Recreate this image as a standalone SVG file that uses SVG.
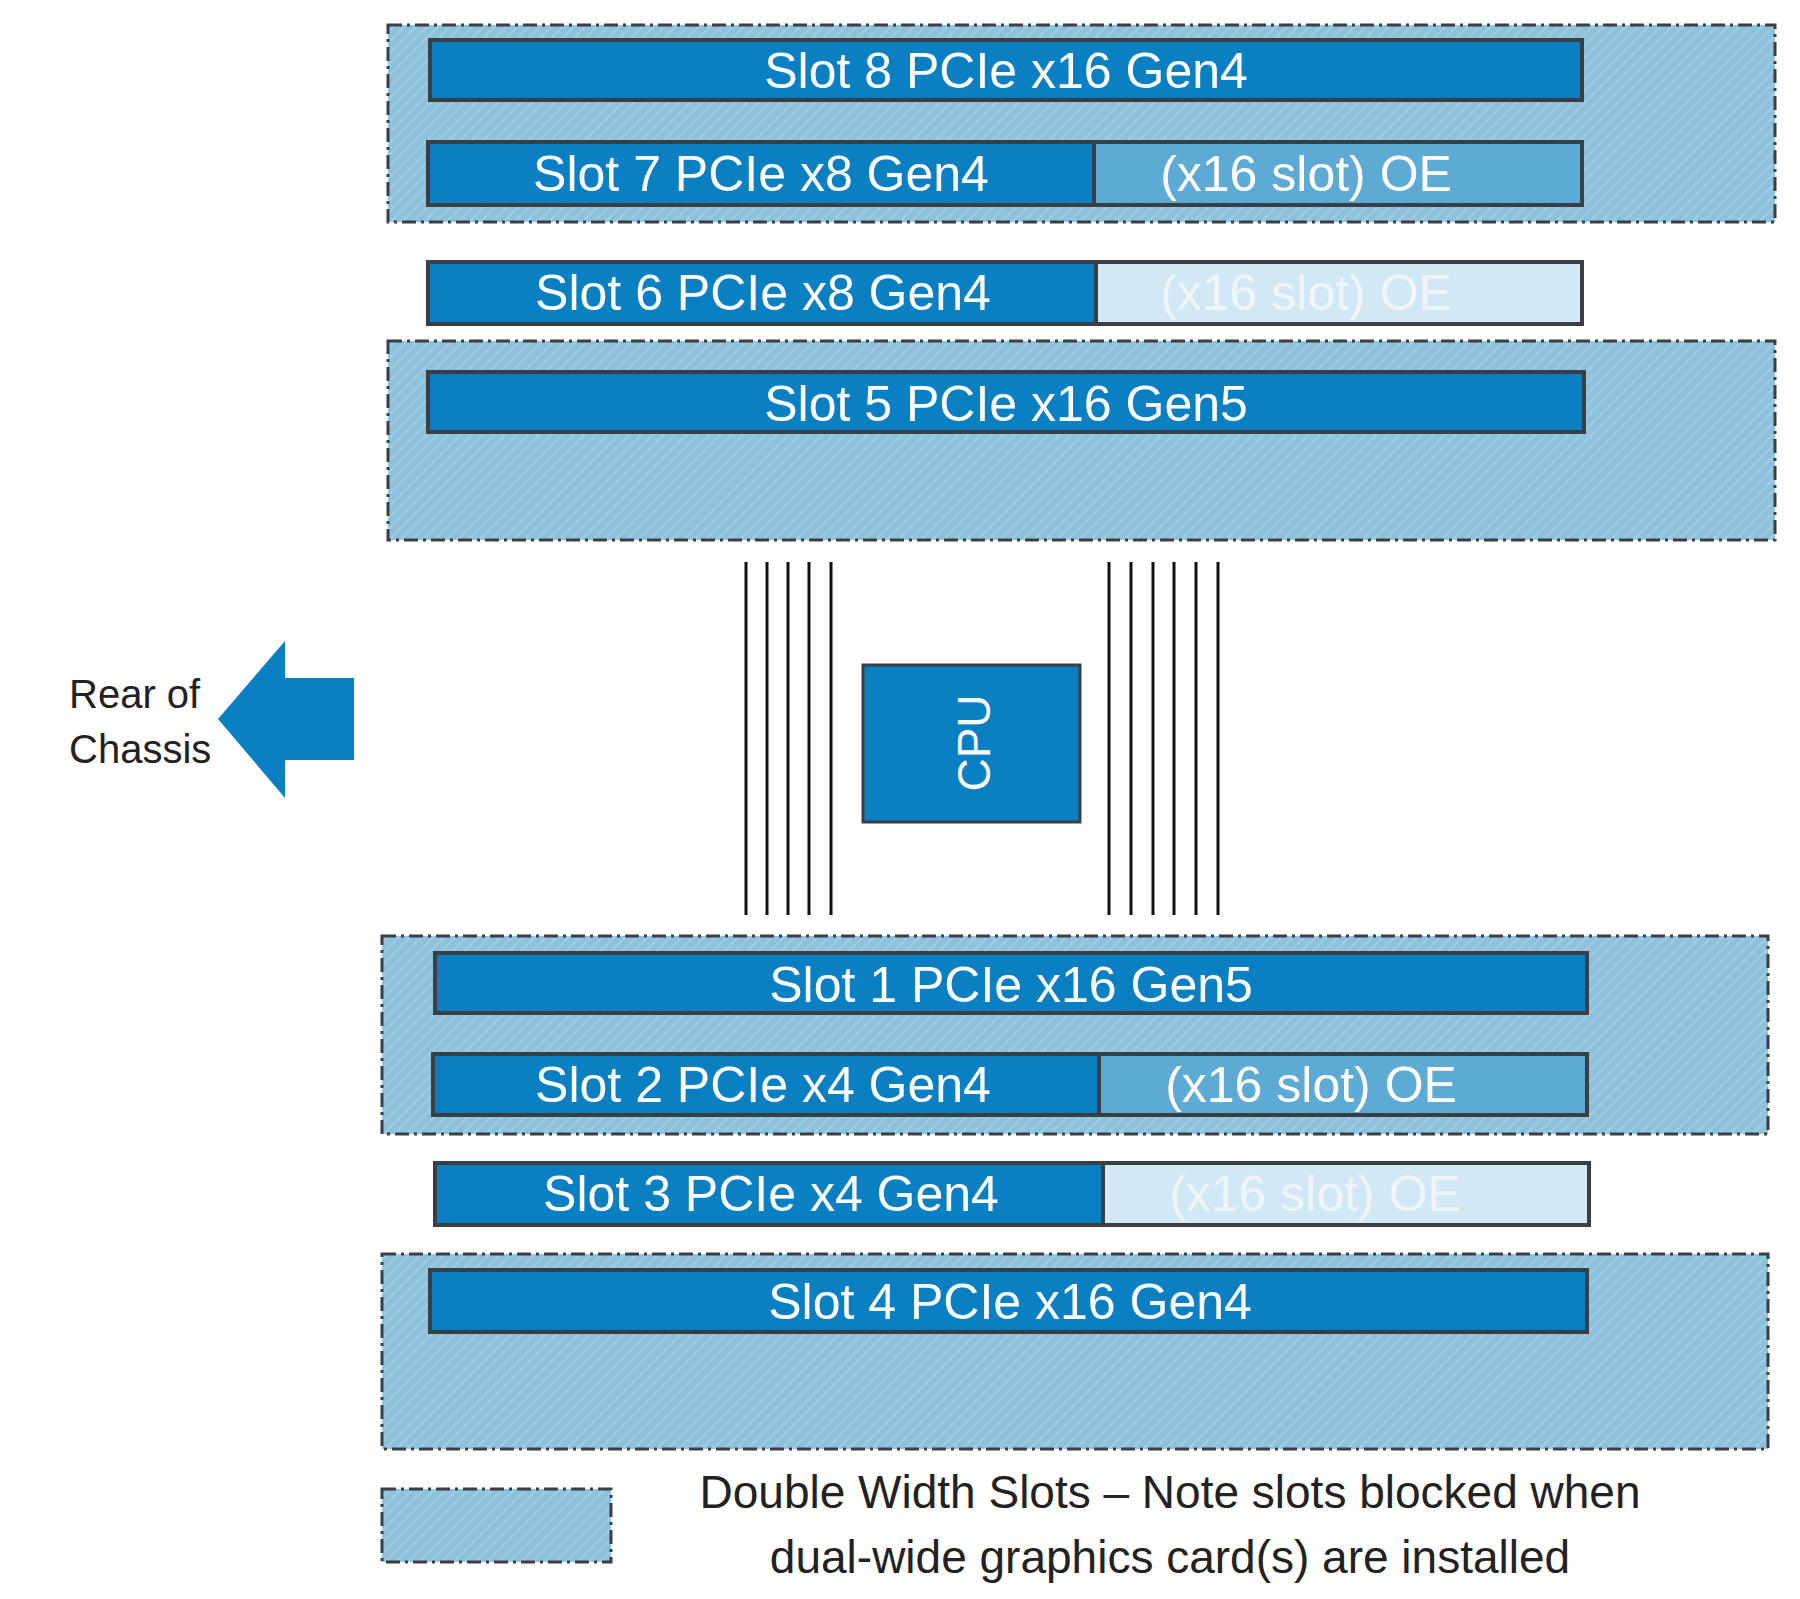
<svg xmlns="http://www.w3.org/2000/svg" width="1800" height="1599" viewBox="0 0 1800 1599">
<defs>
<pattern id="hatch" width="8" height="8" patternUnits="userSpaceOnUse" patternTransform="rotate(45)">
<rect width="8" height="8" fill="#8ec2dc"/>
<line x1="0" y1="0" x2="0" y2="8" stroke="#a6d0e6" stroke-width="3"/>
</pattern>
</defs>
<style>
.dw{fill:url(#hatch);stroke:#3a3f45;stroke-width:3;stroke-dasharray:14 5 3 5}
.slot{fill:#0a80c2;stroke:#3a3f45;stroke-width:4}
.oe1{fill:#5daad5;stroke:#3a3f45;stroke-width:4}
.oe2{fill:#d2e8f4;stroke:#3a3f45;stroke-width:4}
.t{font-family:"Liberation Sans",Arial,sans-serif;font-size:50px;fill:#fff;text-anchor:middle}
.tf{font-family:"Liberation Sans",Arial,sans-serif;font-size:50px;fill:#eef6fb;text-anchor:middle}
.k{font-family:"Liberation Sans",Arial,sans-serif;fill:#222}
.bus{stroke:#111;stroke-width:3}
</style>
<g id="dw-top"><rect class="dw" x="388" y="25" width="1387" height="197"/></g>
<g id="dw-5"><rect class="dw" x="388" y="341" width="1387" height="199"/></g>
<g id="dw-12"><rect class="dw" x="382" y="936" width="1386" height="198"/></g>
<g id="dw-4"><rect class="dw" x="382" y="1254" width="1386" height="195"/></g>

<g id="slot8"><rect class="slot" x="430" y="40" width="1152" height="60"/><text class="t" x="1006" y="88">Slot 8 PCIe x16 Gen4</text></g>
<g id="slot7"><rect class="slot" x="428" y="142" width="666" height="63"/><rect class="oe1" x="1094" y="142" width="488" height="63"/><text class="t" x="761" y="191">Slot 7 PCIe x8 Gen4</text><text class="t" x="1306" y="191">(x16 slot) OE</text></g>
<g id="slot6"><rect class="slot" x="428" y="262" width="668" height="62"/><rect class="oe2" x="1096" y="262" width="486" height="62"/><text class="t" x="763" y="310">Slot 6 PCIe x8 Gen4</text><text class="tf" x="1306" y="310">(x16 slot) OE</text></g>
<g id="slot5"><rect class="slot" x="428" y="372" width="1156" height="60"/><text class="t" x="1006" y="421">Slot 5 PCIe x16 Gen5</text></g>

<g id="connectors">
<line class="bus" x1="746" y1="562" x2="746" y2="915"/>
<line class="bus" x1="767" y1="562" x2="767" y2="915"/>
<line class="bus" x1="788" y1="562" x2="788" y2="915"/>
<line class="bus" x1="809" y1="562" x2="809" y2="915"/>
<line class="bus" x1="831" y1="562" x2="831" y2="915"/>
<line class="bus" x1="1109" y1="562" x2="1109" y2="915"/>
<line class="bus" x1="1131" y1="562" x2="1131" y2="915"/>
<line class="bus" x1="1153" y1="562" x2="1153" y2="915"/>
<line class="bus" x1="1174" y1="562" x2="1174" y2="915"/>
<line class="bus" x1="1196" y1="562" x2="1196" y2="915"/>
<line class="bus" x1="1218" y1="562" x2="1218" y2="915"/>
</g>

<g id="cpu"><rect x="863" y="665" width="217" height="157" fill="#0a80c2" stroke="#3a3f45" stroke-width="3"/><text class="t" transform="translate(990,743) rotate(-90)" style="font-size:46px">CPU</text></g>

<g id="rear"><polygon points="218,719 285,641 285,678 354,678 354,760 285,760 285,798" fill="#0a80c2"/>
<text class="k" x="69" y="708" style="font-size:40px">Rear of</text><text class="k" x="69" y="763" style="font-size:40px">Chassis</text></g>

<g id="slot1"><rect class="slot" x="435" y="953" width="1152" height="60"/><text class="t" x="1011" y="1002">Slot 1 PCIe x16 Gen5</text></g>
<g id="slot2"><rect class="slot" x="433" y="1054" width="666" height="61"/><rect class="oe1" x="1099" y="1054" width="488" height="61"/><text class="t" x="763" y="1102">Slot 2 PCIe x4 Gen4</text><text class="t" x="1311" y="1102">(x16 slot) OE</text></g>
<g id="slot3"><rect class="slot" x="435" y="1163" width="668" height="62"/><rect class="oe2" x="1103" y="1163" width="486" height="62"/><text class="t" x="771" y="1211">Slot 3 PCIe x4 Gen4</text><text class="tf" x="1315" y="1211">(x16 slot) OE</text></g>
<g id="slot4"><rect class="slot" x="430" y="1270" width="1157" height="62"/><text class="t" x="1010" y="1319">Slot 4 PCIe x16 Gen4</text></g>

<g id="legend"><rect class="dw" x="382" y="1489" width="229" height="73"/>
<text class="k" x="1170" y="1508" text-anchor="middle" style="font-size:46px">Double Width Slots – Note slots blocked when</text>
<text class="k" x="1170" y="1573" text-anchor="middle" style="font-size:46px">dual-wide graphics card(s) are installed</text></g>
</svg>
